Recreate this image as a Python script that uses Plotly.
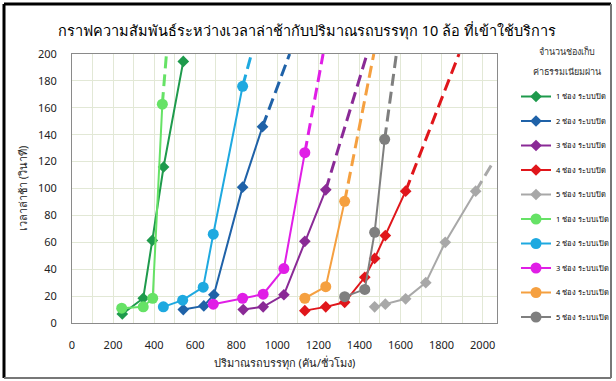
import plotly.graph_objects as go

# ---- data ----
names_closed = ["1 ช่อง ระบบปิด", "2 ช่อง ระบบปิด", "3 ช่อง ระบบปิด", "4 ช่อง ระบบปิด", "5 ช่อง ระบบปิด"]
names_open = ["1 ช่อง ระบบเปิด", "2 ช่อง ระบบเปิด", "3 ช่อง ระบบเปิด", "4 ช่อง ระบบเปิด", "5 ช่อง ระบบเปิด"]

c1_x = [245, 347, 391, 446, 542]
c1_y = [6.7, 18.4, 61.4, 116, 194.5]
c2_x = [542, 642, 691, 831, 928]
c2_y = [10, 12.7, 21, 101, 146]
c3_x = [834, 931, 1032, 1134, 1236]
c3_y = [10, 12, 21, 60.7, 99]
c4_x = [1134, 1236, 1328, 1426, 1474, 1526, 1625]
c4_y = [9.2, 12, 15.4, 34, 48, 65, 98]
c5_x = [1474, 1526, 1625, 1723, 1818, 1966]
c5_y = [12, 14, 18, 30, 60, 98]

o1_x = [242, 347, 393, 440]
o1_y = [11, 12, 18.4, 162.7]
o2_x = [445, 539, 639, 688, 831]
o2_y = [12, 17, 26.6, 66, 176]
o3_x = [688, 831, 931, 1032, 1134]
o3_y = [14, 18.4, 21.4, 40.5, 126.6]
o4_x = [1134, 1236, 1328]
o4_y = [18.4, 27, 90.5]
o5_x = [1328, 1426, 1474, 1523]
o5_y = [19.6, 25, 67.4, 136.6]

# dashed trend extensions: end point of each extension (None = no extension)
ext_c_x = [None, 1060, 1437, 1885, 2045]
ext_c_y = [None, 200, 200, 200, 118]
ext_o_x = [460, 874, 1223, 1470, 1580]
ext_o_y = [200, 200, 200, 200, 200]

x_ticks = [0, 200, 400, 600, 800, 1000, 1200, 1400, 1600, 1800, 2000]
y_ticks = [0, 20, 40, 60, 80, 100, 120, 140, 160, 180, 200]

closed_x = [c1_x, c2_x, c3_x, c4_x, c5_x]
closed_y = [c1_y, c2_y, c3_y, c4_y, c5_y]
open_x = [o1_x, o2_x, o3_x, o4_x, o5_x]
open_y = [o1_y, o2_y, o3_y, o4_y, o5_y]

closed_colors = ["#1e9a4c", "#1f62a8", "#8a2a96", "#e0161b", "#a8a8a8"]
open_colors = ["#66e266", "#1ea9e0", "#e01ee6", "#f5a040", "#7f7f7f"]

FONT = "Noto Sans, Tahoma, sans-serif"

fig = go.Figure()

for xs, ys, ex, ey, col in zip(closed_x, closed_y, ext_c_x, ext_c_y, closed_colors):
    if ex is not None:
        fig.add_trace(go.Scatter(x=[xs[-1], ex], y=[ys[-1], ey], mode="lines",
                                 line=dict(color=col, width=3, dash="12px,6px"),
                                 showlegend=False, hoverinfo="skip", legendgroup="zz"))
for xs, ys, ex, ey, col in zip(open_x, open_y, ext_o_x, ext_o_y, open_colors):
    if ex is not None:
        fig.add_trace(go.Scatter(x=[xs[-1], ex], y=[ys[-1], ey], mode="lines",
                                 line=dict(color=col, width=3, dash="12px,6px"),
                                 showlegend=False, hoverinfo="skip", legendgroup="zz"))

for i, (xs, ys, nm, col) in enumerate(zip(closed_x, closed_y, names_closed, closed_colors)):
    fig.add_trace(go.Scatter(x=xs, y=ys, mode="lines+markers", name=nm,
                             legendgroup=f"g{i}", legendrank=i + 1,
                             line=dict(color=col, width=2),
                             marker=dict(symbol="diamond", size=9, color=col)))
for i, (xs, ys, nm, col) in enumerate(zip(open_x, open_y, names_open, open_colors)):
    fig.add_trace(go.Scatter(x=xs, y=ys, mode="lines+markers", name=nm,
                             legendgroup=f"g{i + 5}", legendrank=i + 6,
                             line=dict(color=col, width=2),
                             marker=dict(symbol="circle", size=11, color=col)))

grid_col = "#e2e8d6"

L, R, T, B = 72, 497, 54, 323
def px(x):
    return (x - L) / (R - L)
def py(y):
    return (B - y) / (B - T)

shapes = [
    dict(type="line", xref="paper", yref="paper", x0=px(4), x1=px(4), y0=py(4), y1=py(378), line=dict(color="black", width=3)),
    dict(type="line", xref="paper", yref="paper", x0=px(4), x1=px(611), y0=py(4), y1=py(4), line=dict(color="black", width=3)),
    dict(type="line", xref="paper", yref="paper", x0=px(611), x1=px(611), y0=py(4), y1=py(378), line=dict(color="#777777", width=2)),
    dict(type="line", xref="paper", yref="paper", x0=px(4), x1=px(611), y0=py(378), y1=py(378), line=dict(color="#777777", width=2)),
]

annotations = [
    dict(text="จำนวนช่องเก็บ", xref="paper", yref="paper", x=px(567), y=py(51),
         xanchor="center", yanchor="middle", showarrow=False, font=dict(size=9, color="#333333")),
    dict(text="ค่าธรรมเนียมผ่าน", xref="paper", yref="paper", x=px(567), y=py(71),
         xanchor="center", yanchor="middle", showarrow=False, font=dict(size=9, color="#333333")),
]

fig.update_layout(
    width=616, height=381,
    margin=dict(l=L, r=616 - R, t=T, b=381 - B, autoexpand=False),
    paper_bgcolor="white", plot_bgcolor="white",
    font=dict(family=FONT, color="#222222"),
    title=dict(text="กราฟความสัมพันธ์ระหว่างเวลาล่าช้ากับปริมาณรถบรรทุก 10 ล้อ ที่เข้าใช้บริการ",
               x=307 / 616, xref="container", xanchor="center", y=1 - 31 / 381, yanchor="middle",
               font=dict(size=14.5, color="#000000", family=FONT)),
    xaxis=dict(range=[0, 2070], tickvals=x_ticks, showgrid=True, gridcolor=grid_col,
               minor=dict(dtick=100, showgrid=True, gridcolor=grid_col),
               showline=True, mirror=True, linecolor="#8a8a8a", linewidth=1,
               ticks="outside", ticklen=12, tickcolor="rgba(0,0,0,0)",
               tickfont=dict(size=11, color="#222222"), zeroline=False, automargin=False,
               title=dict(text="ปริมาณรถบรรทุก (คัน/ชั่วโมง)", font=dict(size=11, color="#222222"), standoff=8)),
    yaxis=dict(range=[0, 200], tickvals=y_ticks, showgrid=True, gridcolor=grid_col,
               showline=True, mirror=True, linecolor="#8a8a8a", linewidth=1,
               ticks="outside", ticklen=12, tickcolor="rgba(0,0,0,0)",
               tickfont=dict(size=11, color="#222222"), zeroline=False, automargin=False,
               title=dict(text="เวลาล่าช้า (วินาที)", font=dict(size=11, color="#222222"), standoff=8)),
    legend=dict(x=px(516), xanchor="left", y=py(82), yanchor="top",
                font=dict(size=7.5, color="#000000"), traceorder="grouped",
                tracegroupgap=5.5, bgcolor="rgba(0,0,0,0)", itemwidth=30),
    annotations=annotations,
    shapes=shapes,
    showlegend=True,
)

fig.write_html("out.html", config={"displayModeBar": False},
               post_script="document.body.style.margin='0';document.body.style.padding='0';")
